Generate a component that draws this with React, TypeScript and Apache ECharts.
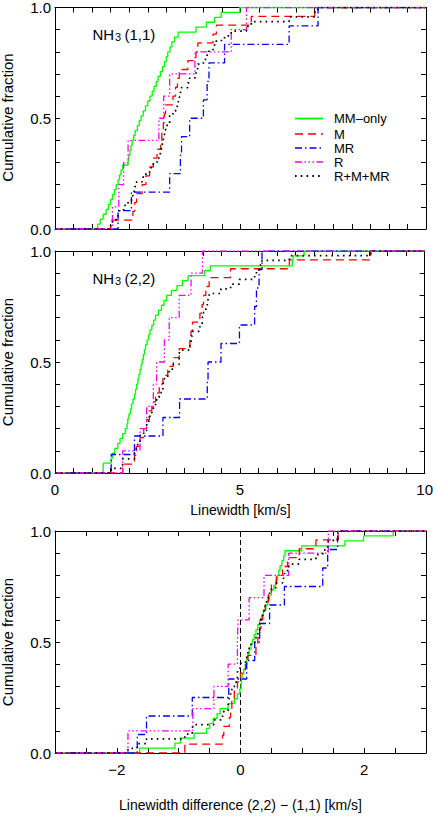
import React, { useEffect, useRef } from "react";
import * as echarts from "echarts";

// ---------- data (linewidth samples) ----------
// Panel 1: NH3 (1,1) linewidth [km/s]
const P1_MM = [1.15, 1.22, 1.30, 1.38, 1.44, 1.50, 1.55, 1.60, 1.65, 1.70, 1.74, 1.78, 1.82, 1.97, 1.99, 2.02, 2.05, 2.08, 2.12, 2.16, 2.22, 2.27, 2.32, 2.38, 2.44, 2.50, 2.56, 2.62, 2.67, 2.73, 2.78, 2.84, 2.90, 2.95, 3.00, 3.04, 3.10, 3.15, 3.22, 3.32, 3.80, 4.08, 4.30, 4.48, 4.98];
const P1_M = [1.50, 2.10, 2.15, 2.20, 2.35, 2.45, 2.55, 2.65, 2.75, 2.85, 2.88, 2.92, 2.95, 2.98, 3.18, 3.25, 3.30, 3.35, 3.58, 3.80, 3.85, 4.26, 4.35, 5.29, 7.00];
const P1_MR = [1.70, 2.06, 3.09, 3.38, 3.41, 3.63, 4.00, 4.10, 4.15, 4.57, 6.31, 7.09];
const P1_R = [1.55, 1.72, 1.85, 1.97, 2.80, 2.93, 3.09, 3.77, 4.75, 5.16];

// Panel 2: NH3 (2,2) linewidth [km/s]
const P2_MM = [1.30, 1.31, 1.52, 1.56, 1.62, 1.70, 1.76, 1.83, 1.90, 1.95, 1.97, 2.00, 2.04, 2.07, 2.11, 2.15, 2.18, 2.21, 2.24, 2.27, 2.30, 2.33, 2.36, 2.39, 2.42, 2.45, 2.49, 2.53, 2.57, 2.62, 2.67, 2.72, 2.80, 2.88, 2.95, 3.02, 3.15, 3.30, 3.45, 3.60, 4.05, 4.20, 6.42, 6.44, 6.74];
const P2_M = [1.83, 2.15, 2.20, 2.30, 2.40, 2.48, 2.55, 2.62, 2.72, 2.82, 2.92, 3.05, 3.20, 3.36, 3.65, 3.68, 3.72, 3.92, 3.98, 4.02, 4.08, 4.17, 4.75, 6.34, 8.54];
const P2_MR = [1.52, 2.15, 2.92, 3.37, 4.12, 4.14, 4.49, 4.99, 5.40, 5.45, 5.52, 5.60];
const P2_R = [1.83, 2.30, 2.48, 2.66, 2.75, 2.96, 3.09, 3.36, 3.68, 3.99];

// Panel 3: linewidth difference (2,2) - (1,1) [km/s]
const P3_MM = [-1.63, -1.06, -0.97, -0.75, -0.55, -0.50, -0.44, -0.38, -0.33, -0.20, -0.10, -0.05, -0.01, 0.01, 0.02, 0.03, 0.05, 0.08, 0.10, 0.12, 0.14, 0.17, 0.19, 0.22, 0.25, 0.28, 0.31, 0.34, 0.37, 0.41, 0.44, 0.47, 0.50, 0.54, 0.57, 0.60, 0.62, 0.64, 0.67, 0.70, 0.72, 0.99, 1.69, 1.99, 2.47];
const P3_M = [-0.90, -0.29, -0.27, -0.18, -0.16, -0.14, -0.10, -0.05, 0.00, 0.08, 0.12, 0.25, 0.28, 0.31, 0.33, 0.36, 0.40, 0.45, 0.50, 0.58, 0.68, 0.76, 0.95, 1.22, 1.58];
const P3_MR = [-1.67, -1.52, -0.78, -0.19, 0.10, 0.23, 0.31, 0.47, 0.71, 1.33, 1.41, 1.57];
const P3_R = [-1.82, -0.77, -0.43, -0.20, -0.05, -0.04, 0.14, 0.38, 0.78, 1.42];

const GROUP_NAMES = ["MM–only", "M", "MR", "R", "R+M+MR"];
const PANEL_LABELS = ["(1,1)", "(2,2)"];
const X_RANGE_LW = [0, 10];
const X_RANGE_DIFF = [-3, 3];
const LW_TICK_LABELS = [0, 5, 10];
const DIFF_TICK_LABELS = [-2, 0, 2];
const Y_TICK_LABELS = [0, 0.5, 1];

// ---------- styles ----------
const FONT = '"Liberation Sans", Arial, Helvetica, sans-serif';
const COLORS = ["#00ff00", "#ff0000", "#0000ff", "#ff00ff", "#000000"];
const DASHES: any[] = [
  "solid",
  [8, 5],
  [7, 3, 1.5, 3],
  [7, 2.5, 1.5, 2.5, 1.5, 2.5, 1.5, 2.5],
  [1.6, 4.2],
];
const WIDTHS = [1.3, 1.3, 1.3, 1.3, 1.7];

const GRIDS = [
  { left: 55, top: 6, width: 371, height: 223 },
  { left: 55, top: 251, width: 371, height: 222 },
  { left: 55, top: 531, width: 371, height: 222 },
];

function cdf(vals: number[], lo: number, hi: number) {
  const s = [...vals].sort((a, b) => a - b);
  const n = s.length;
  const pts: number[][] = [[lo, 0]];
  s.forEach((v, i) => pts.push([v, (i + 1) / n]));
  pts.push([hi, 1]);
  return pts;
}

function near(v: number, list: number[]) {
  return list.some((t) => Math.abs(v - t) < 1e-6);
}

export default function App() {
  const ref = useRef<HTMLDivElement>(null);

  useEffect(() => {
    if (!ref.current) return;
    const chart = echarts.init(ref.current, null, { renderer: "svg" });

    const panels = [
      { groups: [P1_MM, P1_M, P1_MR, P1_R], range: X_RANGE_LW },
      { groups: [P2_MM, P2_M, P2_MR, P2_R], range: X_RANGE_LW },
      { groups: [P3_MM, P3_M, P3_MR, P3_R], range: X_RANGE_DIFF },
    ];

    const tickText = { fontFamily: FONT, fontSize: 15, color: "#000" };
    const axisLine = { show: true, onZero: false, lineStyle: { color: "#000", width: 1 } };

    const xAxis: any[] = [];
    const yAxis: any[] = [];
    panels.forEach((p, g) => {
      const isDiff = g === 2;
      const showLabels = g > 0;
      const base: any = {
        type: "value",
        gridIndex: g,
        min: p.range[0],
        max: p.range[1],
        interval: isDiff ? 1 : 5,
        axisLine,
        splitLine: { show: false },
        axisTick: { show: true, inside: true, length: 5, lineStyle: { color: "#000" } },
        minorTick: { show: true, splitNumber: isDiff ? 2 : 10, length: 5, lineStyle: { color: "#000" } },
      };
      xAxis.push({
        ...base,
        position: "bottom",
        axisLabel: {
          show: showLabels,
          ...tickText,
          margin: 9,
          formatter: (v: number) =>
            near(v, isDiff ? DIFF_TICK_LABELS : LW_TICK_LABELS) ? String(Math.round(v)).replace("-", "−") : "",
        },
      });
      xAxis.push({ ...base, position: "top", axisLabel: { show: false } });
      const ybase: any = {
        type: "value",
        gridIndex: g,
        min: 0,
        max: 1,
        interval: 0.5,
        axisLine,
        splitLine: { show: false },
        axisTick: { show: true, inside: true, length: 5, lineStyle: { color: "#000" } },
        minorTick: { show: true, splitNumber: 5, length: 5, lineStyle: { color: "#000" } },
      };
      yAxis.push({
        ...ybase,
        position: "left",
        axisLabel: {
          ...tickText,
          margin: 4,
          formatter: (v: number) => (near(v, Y_TICK_LABELS) ? v.toFixed(1) : ""),
        },
      });
      yAxis.push({ ...ybase, position: "right", axisLabel: { show: false } });
    });

    const series: any[] = [];
    panels.forEach((p, g) => {
      const all = [...p.groups[1], ...p.groups[2], ...p.groups[3]];
      const sets = [...p.groups, all];
      sets.forEach((vals, k) => {
        series.push({
          type: "line",
          name: GROUP_NAMES[k],
          xAxisIndex: 2 * g,
          yAxisIndex: 2 * g,
          step: "end",
          symbol: "none",
          showSymbol: false,
          silent: true,
          data: cdf(vals, p.range[0], p.range[1]),
          lineStyle: { color: COLORS[k], width: WIDTHS[k], type: DASHES[k], cap: "butt" },
          z: 2 + k,
        });
      });
    });
    // zero reference line in panel 3
    series.push({
      type: "line",
      xAxisIndex: 4,
      yAxisIndex: 4,
      symbol: "none",
      silent: true,
      data: [
        [0, 0],
        [0, 1],
      ],
      lineStyle: { color: "#000", width: 1, type: [5, 3] },
      z: 1,
    });

    const graphic: any[] = [];
    const txt = (x: number, y: number, text: string, size: number, extra: any = {}) => ({
      type: "text",
      x,
      y,
      ...extra,
      style: {
        text,
        fill: "#000",
        fontFamily: FONT,
        fontSize: size,
        align: extra.align || "left",
        verticalAlign: "middle",
      },
    });
    // Y titles
    GRIDS.forEach((gr) => {
      graphic.push(
        txt(7, gr.top + gr.height / 2, "Cumulative fraction", 15, { rotation: Math.PI / 2, align: "center" })
      );
    });
    // X titles
    graphic.push(txt(240.5, 510, "Linewidth [km/s]", 14, { align: "center" }));
    graphic.push(txt(240.5, 805, "Linewidth difference (2,2) − (1,1) [km/s]", 14, { align: "center" }));
    // NH3 panel labels
    PANEL_LABELS.forEach((lab, i) => {
      const cy = i === 0 ? 34 : 278;
      graphic.push(txt(92.5, cy, "NH", 15));
      graphic.push(txt(115, cy + 3, "3", 11));
      graphic.push(txt(124.5, cy, lab, 15));
    });
    // legend
    const legendY = [118.5, 134, 148, 162, 176];
    GROUP_NAMES.forEach((name, k) => {
      graphic.push({
        type: "line",
        shape: { x1: 295, y1: legendY[k], x2: 323, y2: legendY[k] },
        style: {
          stroke: COLORS[k],
          lineWidth: k === 0 ? 1.8 : WIDTHS[k] + 0.3,
          lineDash: k === 0 ? null : DASHES[k],
        },
      });
      graphic.push(txt(334, legendY[k], name, 13));
    });

    chart.setOption({
      animation: false,
      backgroundColor: "#fff",
      grid: GRIDS.map((g) => ({ ...g, containLabel: false })),
      xAxis,
      yAxis,
      series,
      graphic,
    });

    return () => chart.dispose();
  }, []);

  return (
    <div
      ref={ref}
      style={{ position: "fixed", left: 0, top: 0, width: 436, height: 817, background: "#fff" }}
    />
  );
}
